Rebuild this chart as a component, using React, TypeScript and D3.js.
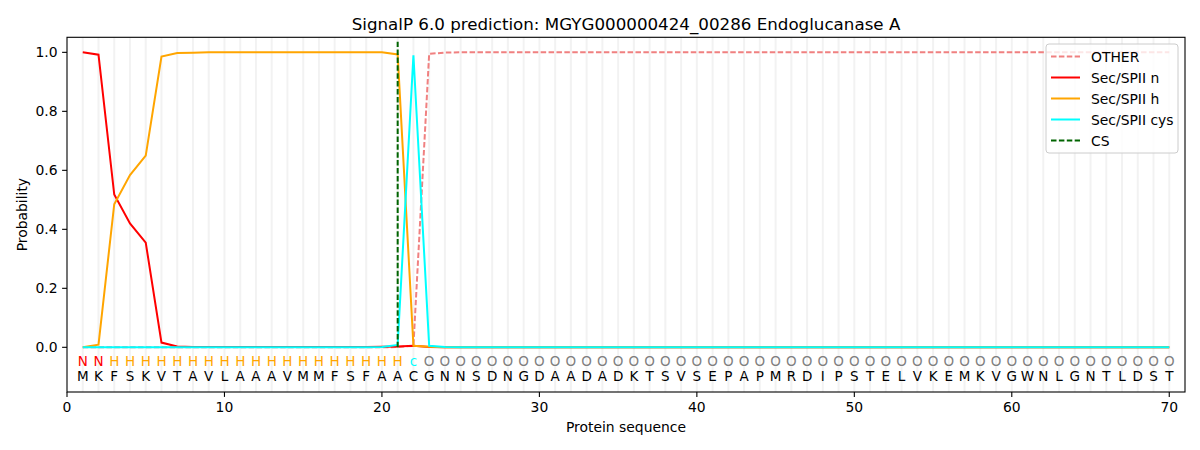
import React from 'react'
import * as d3 from 'd3'

const TITLE = 'SignalP 6.0 prediction: MGYG000000424_00286 Endoglucanase A'

// amino acid sequence, one letter per position 1..70
const SEQUENCE = 'MKFSKVTAVLAAAVMMFSFAACGNNSDNGDAADADKTSVSEPAPMRDIPSTELVKEMKVGWNLGNTLDST'.split('')
// predicted region label for each position
const REGIONS = 'NNHHHHHHHHHHHHHHHHHHHcOOOOOOOOOOOOOOOOOOOOOOOOOOOOOOOOOOOOOOOOOOOOOOOO'.split('')

const OTHER = [
  0, 0, 0, 0, 0, 0, 0, 0, 0, 0,
  0, 0, 0, 0, 0, 0, 0, 0, 0, 0,
  0.001, 0.005, 0.995, 0.999, 1, 1, 1, 1, 1, 1,
  1, 1, 1, 1, 1, 1, 1, 1, 1, 1,
  1, 1, 1, 1, 1, 1, 1, 1, 1, 1,
  1, 1, 1, 1, 1, 1, 1, 1, 1, 1,
  1, 1, 1, 1, 1, 1, 1, 1, 1, 1,
]
const SEC_N = [
  1.0, 0.992, 0.518, 0.42, 0.355, 0.016, 0.003, 0.001, 0.001, 0.001,
  0.001, 0.001, 0.001, 0.001, 0.001, 0.001, 0.001, 0.001, 0.001, 0.002,
  0.003, 0.005, 0.001, 0, 0, 0, 0, 0, 0, 0,
  0, 0, 0, 0, 0, 0, 0, 0, 0, 0,
  0, 0, 0, 0, 0, 0, 0, 0, 0, 0,
  0, 0, 0, 0, 0, 0, 0, 0, 0, 0,
  0, 0, 0, 0, 0, 0, 0, 0, 0, 0,
]
const SEC_H = [
  0, 0.009, 0.485, 0.584, 0.65, 0.986, 0.998, 0.999, 1, 1,
  1, 1, 1, 1, 1, 1, 1, 1, 1, 1,
  0.993, 0.005, 0.002, 0, 0, 0, 0, 0, 0, 0,
  0, 0, 0, 0, 0, 0, 0, 0, 0, 0,
  0, 0, 0, 0, 0, 0, 0, 0, 0, 0,
  0, 0, 0, 0, 0, 0, 0, 0, 0, 0,
  0, 0, 0, 0, 0, 0, 0, 0, 0, 0,
]
const SEC_CYS = [
  0, 0, 0, 0, 0, 0, 0, 0, 0, 0,
  0, 0, 0, 0, 0, 0, 0, 0, 0, 0.001,
  0.008, 0.99, 0.005, 0.001, 0, 0, 0, 0, 0, 0,
  0, 0, 0, 0, 0, 0, 0, 0, 0, 0,
  0, 0, 0, 0, 0, 0, 0, 0, 0, 0,
  0, 0, 0, 0, 0, 0, 0, 0, 0, 0,
  0, 0, 0, 0, 0, 0, 0, 0, 0, 0,
]
const CS_POS = 21

const X_TICKS = [0, 10, 20, 30, 40, 50, 60, 70]
const Y_TICKS = [0, 0.2, 0.4, 0.6, 0.8, 1.0]

const REGION_COLORS: Record<string, string> = { N: 'red', H: 'orange', c: 'cyan', O: 'gray' }

const SERIES = [
  { name: 'OTHER', values: OTHER, color: '#f08080', dash: '5.5,2.4' },
  { name: 'Sec/SPII n', values: SEC_N, color: 'red', dash: null },
  { name: 'Sec/SPII h', values: SEC_H, color: 'orange', dash: null },
  { name: 'Sec/SPII cys', values: SEC_CYS, color: 'cyan', dash: null },
]

const W = 1200
const H = 450
const M = { left: 67, right: 1185, top: 37.3, bottom: 392 }
const FONT = 'DejaVu Sans, sans-serif'

export default function App() {
  const x = d3.scaleLinear().domain([0, 71]).range([M.left, M.right])
  const y = d3.scaleLinear().domain([-0.1515, 1.051]).range([M.bottom, M.top])
  const positions = SEQUENCE.map((_, i) => i + 1)

  const line = d3.line<number>()
    .x((_, i) => x(i + 1))
    .y(d => y(d))

  const legendX = 1046
  const legendY = 44

  return (
    <svg width={W} height={H} style={{ position: 'absolute', left: 0, top: 0, background: 'white' }}
      fontFamily={FONT}>
      <rect x={0} y={0} width={W} height={H} fill="white" />

      {/* vertical guides at every residue */}
      {positions.map(p => (
        <line key={'g' + p} x1={x(p)} x2={x(p)} y1={M.top} y2={M.bottom}
          stroke="#d3d3d3" strokeOpacity={0.3} strokeWidth={2} />
      ))}

      {SERIES.map(s => (
        <path key={s.name} d={line(s.values) || ''} fill="none" stroke={s.color}
          strokeWidth={2} strokeDasharray={s.dash || undefined} />
      ))}

      <line x1={x(CS_POS)} x2={x(CS_POS)} y1={y(0)} y2={y(1.036)}
        stroke="darkgreen" strokeWidth={2} strokeDasharray="5.5,2.4" />

      {/* region labels and residues */}
      {positions.map((p, i) => (
        <g key={'t' + p}>
          <text x={x(p)} y={y(-0.046) + 5} textAnchor="middle" fontSize={13.5}
            fill={REGION_COLORS[REGIONS[i]]}>{REGIONS[i]}</text>
          <text x={x(p)} y={y(-0.097) + 5} textAnchor="middle" fontSize={13.5}
            fill="black">{SEQUENCE[i]}</text>
        </g>
      ))}

      {/* axes frame */}
      <rect x={M.left} y={M.top} width={M.right - M.left} height={M.bottom - M.top}
        fill="none" stroke="black" strokeWidth={1.1} />

      {X_TICKS.map(t => (
        <g key={'xt' + t}>
          <line x1={x(t)} x2={x(t)} y1={M.bottom} y2={M.bottom + 4.9} stroke="black" strokeWidth={1.1} />
          <text x={x(t)} y={M.bottom + 20} textAnchor="middle" fontSize={13.9}>{t}</text>
        </g>
      ))}
      {Y_TICKS.map(t => (
        <g key={'yt' + t}>
          <line x1={M.left - 4.9} x2={M.left} y1={y(t)} y2={y(t)} stroke="black" strokeWidth={1.1} />
          <text x={M.left - 9.5} y={y(t) + 5} textAnchor="end" fontSize={13.9}>{t.toFixed(1)}</text>
        </g>
      ))}

      <text x={(M.left + M.right) / 2} y={432} textAnchor="middle" fontSize={13.9}>Protein sequence</text>
      <text transform={`translate(27,${(M.top + M.bottom) / 2}) rotate(-90)`} textAnchor="middle"
        fontSize={13.9}>Probability</text>
      <text x={(M.left + M.right) / 2} y={30} textAnchor="middle" fontSize={16.7}>{TITLE}</text>

      {/* legend */}
      <rect x={legendX} y={legendY} width={132} height={109} rx={3} fill="white" fillOpacity={0.8}
        stroke="#cccccc" strokeWidth={1} />
      {[...SERIES, { name: 'CS', color: 'darkgreen', dash: '5.5,2.4' }].map((s, i) => {
        const ly = legendY + 12.5 + i * 21
        return (
          <g key={'lg' + s.name}>
            <line x1={legendX + 5} x2={legendX + 34} y1={ly} y2={ly} stroke={s.color}
              strokeWidth={2} strokeDasharray={s.dash || undefined} />
            <text x={legendX + 45} y={ly + 5} fontSize={13.9}>{s.name}</text>
          </g>
        )
      })}
    </svg>
  )
}
